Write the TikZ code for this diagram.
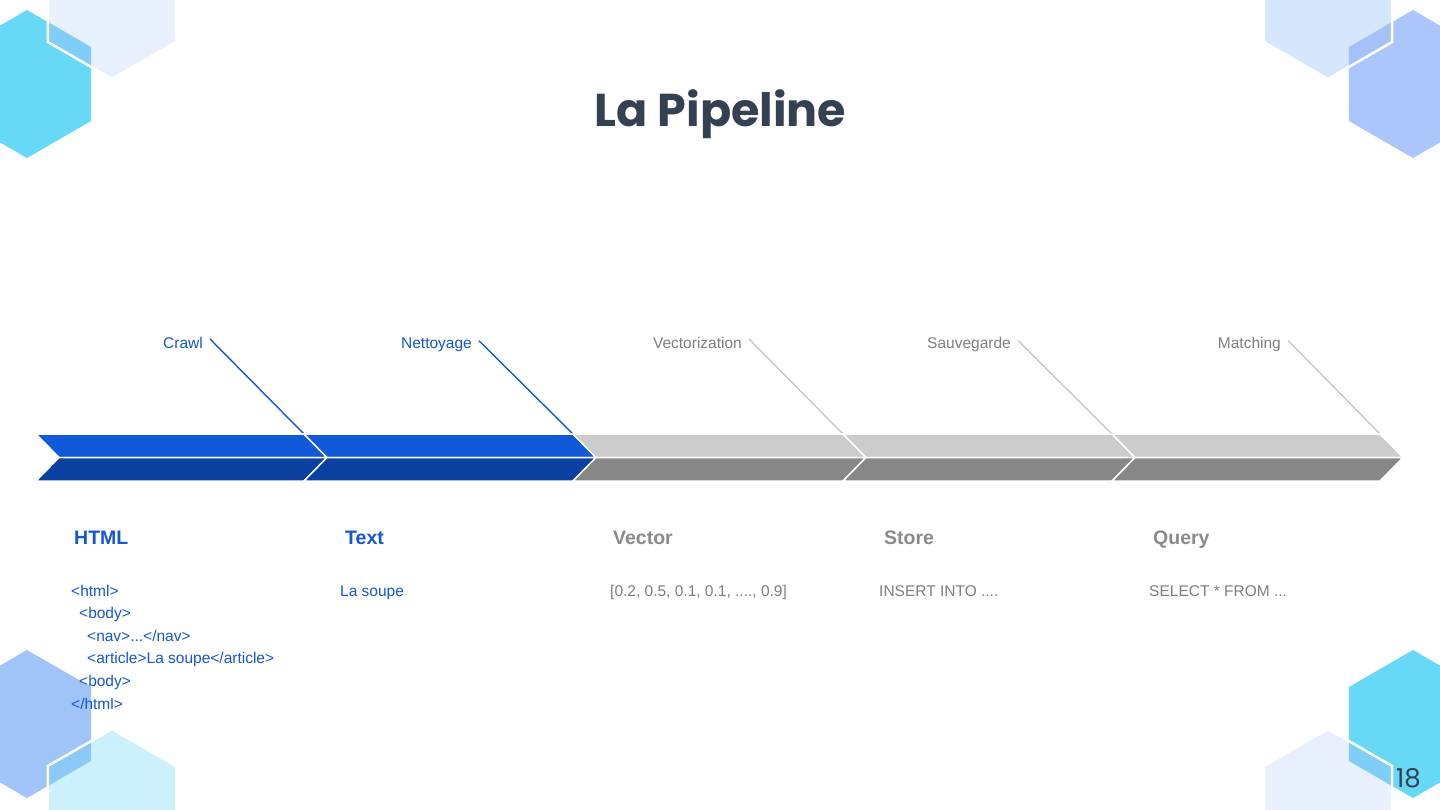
\documentclass[tikz,border=0pt]{standalone}
\usepackage{fontspec}
\setmainfont{Liberation Sans}
\newfontfamily\titlefont{Poppins}
\definecolor{hexcyan}{HTML}{67D8F6}
\definecolor{hexlav}{HTML}{E8EFFD}
\definecolor{hexcyanlav}{HTML}{80CDF6}
\definecolor{hexperi}{HTML}{ABC6FB}
\definecolor{hexlight}{HTML}{D6E6FC}
\definecolor{hexperilight}{HTML}{A5C2F8}
\definecolor{hexblue}{HTML}{A1C4F8}
\definecolor{hexlcyan}{HTML}{CDF1FC}
\definecolor{hexbluelcyan}{HTML}{8CC9F8}
\definecolor{bluetop}{HTML}{105ADA}
\definecolor{bluebot}{HTML}{0A40A0}
\definecolor{graytop}{HTML}{CCCCCC}
\definecolor{graybot}{HTML}{878787}
\definecolor{bluetxt}{HTML}{1556D6}
\definecolor{graytxt}{HTML}{7F7F7F}
\definecolor{grayhead}{HTML}{8A8A8A}
\definecolor{grayline}{HTML}{C8C8C8}
\definecolor{titlecol}{HTML}{334152}
\newcommand\hexp[2]{(#1,#2-74) -- (#1+64.09,#2-37) -- (#1+64.09,#2+37) -- (#1,#2+74) -- (#1-64.09,#2+37) -- (#1-64.09,#2-37) -- cycle}
% #1,#2 back hex centre, #3 its colour; #4,#5 front hex centre, #6 its colour; #7 overlap colour
\newcommand\hexpair[7]{%
  \fill[#3] \hexp{#1}{#2};
  \fill[#6] \hexp{#4}{#5};
  \begin{scope}\clip \hexp{#1}{#2}; \fill[#7] \hexp{#4}{#5};\end{scope}
  \draw[white, line width=2.5] \hexp{#4}{#5};
}
% chevron segment: #1 left x, #2 tip x, #3 top colour, #4 bottom colour
\newcommand\chevseg[4]{%
  \filldraw[fill=#3, draw=white, line width=1.5, line join=miter] (#1,434) -- (#2-23,434) -- (#2,457.5) -- (#1+23,457.5) -- cycle;
  \filldraw[fill=#4, draw=white, line width=1.5, line join=miter] (#1+23,457.5) -- (#2,457.5) -- (#2-23,481) -- (#1,481) -- cycle;
}
\tikzset{
  lbl/.style={anchor=base east, inner sep=0pt, font=\fontsize{15.5}{18}\selectfont},
  head/.style={anchor=base west, inner sep=0pt, font=\fontsize{19.5}{22}\selectfont\bfseries},
  body/.style={anchor=base west, inner sep=0pt, font=\fontsize{15.5}{18}\selectfont},
  leader/.style={line width=1.4},
}
\begin{document}
\begin{tikzpicture}[x=1pt,y=-1pt]
\useasboundingbox (0,0) rectangle (1440,810);
\clip (0,0) rectangle (1440,810);
\fill[white] (0,0) rectangle (1440,810);
% decorative hexagons
\hexpair{27}{84}{hexcyan}{112}{5}{hexlav}{hexcyanlav}
\hexpair{1413}{84}{hexperi}{1328}{5}{hexlight}{hexperilight}
\hexpair{27}{724}{hexblue}{112}{803}{hexlcyan}{hexbluelcyan}
\hexpair{1413}{724}{hexcyan}{1328}{803}{hexlav}{hexcyanlav}
% title
\node[anchor=base, inner sep=0pt, text=titlecol, font=\titlefont\fontsize{46}{50}\selectfont\bfseries] (title) at (720.5,127) {La Pipeline};
% labels
\node[lbl, text=bluetxt] (l1) at (203,348) {Crawl};
\node[lbl, text=bluetxt] (l2) at (472,348) {Nettoyage};
\node[lbl, text=graytxt] (l3) at (742,348) {Vectorization};
\node[lbl, text=graytxt] (l4) at (1011,348) {Sauvegarde};
\node[lbl, text=graytxt] (l5) at (1281,348) {Matching};
% chevron corners
\coordinate (c1) at (304,434);
\coordinate (c2) at (573,434);
\coordinate (c3) at (843,434);
\coordinate (c4) at (1112,434);
\coordinate (c5) at (1380,434);
\draw[leader, bluetxt] ([xshift=7pt,yshift=3.5pt]l1.east) -- (c1);
\draw[leader, bluetxt] ([xshift=7pt,yshift=3.5pt]l2.east) -- (c2);
\draw[leader, grayline] ([xshift=7pt,yshift=3.5pt]l3.east) -- (c3);
\draw[leader, grayline] ([xshift=7pt,yshift=3.5pt]l4.east) -- (c4);
\draw[leader, grayline] ([xshift=7pt,yshift=3.5pt]l5.east) -- (c5);
% chevrons
\chevseg{36}{327}{bluetop}{bluebot}
\chevseg{304}{596}{bluetop}{bluebot}
\chevseg{573}{866}{graytop}{graybot}
\chevseg{843}{1135}{graytop}{graybot}
\chevseg{1112}{1403}{graytop}{graybot}
% headers
\node[head, text=bluetxt] (h1) at (74,544) {HTML};
\node[head, text=bluetxt] (h2) at (345,544) {Text};
\node[head, text=grayhead] (h3) at (613,544) {Vector};
\node[head, text=grayhead] (h4) at (884,544) {Store};
\node[head, text=grayhead] (h5) at (1153,544) {Query};
% body
\node[body, text=bluetxt] (b1) at (71,596) {<html>};
\node[body, text=bluetxt] (b2) at (79,618.6) {<body>};
\node[body, text=bluetxt] (b3) at (87,641.2) {<nav>...</nav>};
\node[body, text=bluetxt] (b4) at (87,663.8) {<article>La soupe</article>};
\node[body, text=bluetxt] (b5) at (79,686.4) {<body>};
\node[body, text=bluetxt] (b6) at (71,709) {</html>};
\node[body, text=bluetxt] (t1) at (340,596) {La soupe};
\node[body, text=graytxt] (v1) at (610,596) {[0.2, 0.5, 0.1, 0.1, ...., 0.9]};
\node[body, text=graytxt] (s1) at (879,596) {INSERT INTO ....};
\node[body, text=graytxt] (q1) at (1149,596) {SELECT * FROM ...};
% page number
\node[anchor=base, inner sep=0pt, text=titlecol, font=\titlefont\fontsize{26}{28}\selectfont] (pg) at (1408.5,787) {18};
\end{tikzpicture}
\end{document}
